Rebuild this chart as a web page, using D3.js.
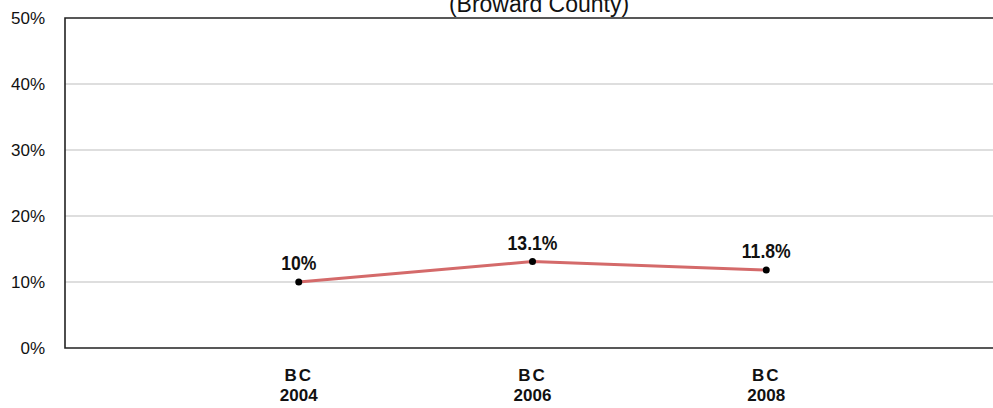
<!DOCTYPE html>
<html>
<head>
<meta charset="utf-8">
<script src="https://cdn.jsdelivr.net/npm/d3@7"></script>
<style>
  body { margin: 0; background: #fff; }
  svg { display: block; }
</style>
</head>
<body>
<svg id="chart"></svg>
<script>
const categories = ["BC 2004", "BC 2006", "BC 2008"]
const values = [10, 13.1, 11.8]
const valueLabels = ["10%", "13.1%", "11.8%"]
const yTicks = [0, 10, 20, 30, 40, 50]

const width = 993
const height = 408
const margin = {top: 18, right: -7, bottom: 60, left: 65}
const font = "'Liberation Sans', Arial, sans-serif"

const svg = d3.select("#chart").attr("width", width).attr("height", height)

const x = d3.scalePoint().domain(categories)
    .range([margin.left, width - margin.right]).padding(1)
const y = d3.scaleLinear().domain([0, 50]).range([height - margin.bottom, margin.top])

// grid
svg.append("g").selectAll("line")
    .data(yTicks.filter(d => d > 0 && d < 50))
    .enter().append("line")
    .attr("x1", margin.left).attr("x2", width)
    .attr("y1", d => y(d)).attr("y2", d => y(d))
    .attr("stroke", "#bdbdbd").attr("stroke-width", 1)

// frame
svg.append("path").attr("d", `M${width},${y(50)}H${margin.left}V${y(0)}H${width}`)
    .attr("stroke", "#222").attr("stroke-width", 1.6).attr("fill", "none")

// y labels
svg.append("g").selectAll("text")
    .data(yTicks).enter().append("text")
    .attr("x", 45).attr("y", d => y(d) + 6)
    .attr("text-anchor", "end")
    .style("font-family", font)
    .style("font-size", "17px").attr("fill", "#111")
    .text(d => d + "%")

// x labels
const xl = svg.append("g").selectAll("text")
    .data(categories).enter().append("text")
    .attr("text-anchor", "middle")
    .style("font-family", font)
    .style("font-weight", "bold").style("font-size", "17px").attr("fill", "#111")
xl.append("tspan").attr("x", d => x(d)).attr("y", 381).style("letter-spacing", "2px").text(d => d.split(" ")[0])
xl.append("tspan").attr("x", d => x(d)).attr("y", 401).text(d => d.split(" ")[1])

// title (cut at top as in the original)
svg.append("text").attr("x", 539).attr("y", 12).attr("text-anchor", "middle")
    .style("font-family", font)
    .style("font-size", "23px").attr("fill", "#111")
    .text("(Broward County)")

// line
const line = d3.line().x((d, i) => x(categories[i])).y(d => y(d))
svg.append("path").datum(values)
    .attr("d", line).attr("fill", "none")
    .attr("stroke", "#d46a6a").attr("stroke-width", 3)

svg.append("g").selectAll("circle")
    .data(values).enter().append("circle")
    .attr("cx", (d, i) => x(categories[i])).attr("cy", d => y(d))
    .attr("r", 3.5).attr("fill", "#000")

// value labels, squeezed like a narrow font
svg.append("g").selectAll("text")
    .data(values).enter().append("text")
    .attr("transform", (d, i) => `translate(${x(categories[i])},${y(d) - 12}) scale(0.88,1)`)
    .attr("text-anchor", "middle")
    .style("font-family", font)
    .style("font-weight", "bold").style("font-size", "20px").attr("fill", "#111")
    .text((d, i) => valueLabels[i])
</script>
</body>
</html>
